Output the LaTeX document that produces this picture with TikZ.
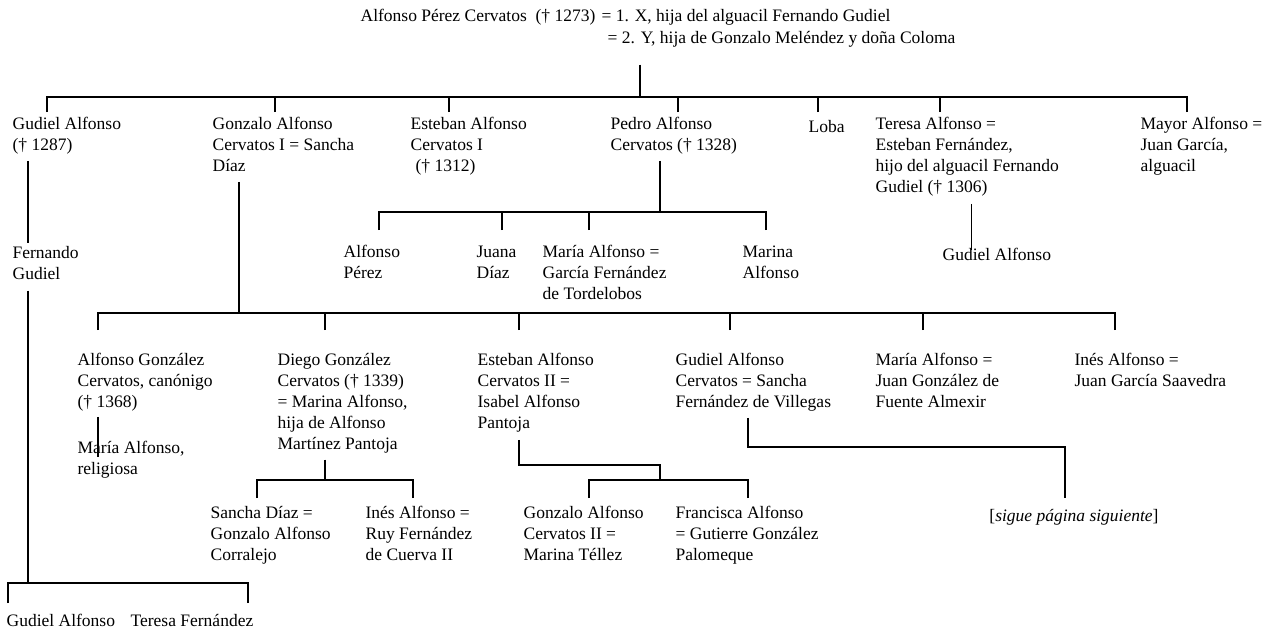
\documentclass[tikz,border=0pt]{standalone}
\usepackage{fontspec}
\setmainfont{Liberation Serif}
\usetikzlibrary{positioning}
\begin{document}
\begin{tikzpicture}[x=1pt, y=-1pt, line width=1.25pt,
  person/.style={anchor=north west, inner sep=0pt, align=left,
    font=\fontsize{17.5}{21}\selectfont, execute at begin node=\strut}]
  \useasboundingbox (0,0) rectangle (1270,630);
  % Alfonso Perez and his two wives
  \node[person] (parent) at (360,6) {Alfonso Pérez Cervatos\ \ († 1273)};
  \node[person, right=5pt of parent] (wife1) {= 1. X, hija del alguacil Fernando Gudiel};
  \node[person] (wife2) at ([xshift=6pt]wife1.south west) {= 2. Y, hija de Gonzalo Meléndez y doña Coloma};
  % his children
  \node[person] (gudiel) at (12,117) {Gudiel Alfonso\\(† 1287)};
  \node[person] (gonzalo) at (212,117) {Gonzalo Alfonso\\Cervatos I = Sancha\\Díaz};
  \node[person] (esteban) at (410,117) {Esteban Alfonso\\Cervatos I\\\kern5pt(† 1312)};
  \node[person] (pedro) at (610,117) {Pedro Alfonso\\Cervatos († 1328)};
  \node[person] (loba) at (808,117) {Loba};
  \node[person] (teresa) at (875,117) {Teresa Alfonso =\\Esteban Fernández,\\hijo del alguacil Fernando\\Gudiel († 1306)};
  \node[person] (mayor) at (1140,117) {Mayor Alfonso =\\Juan García,\\alguacil};
  \coordinate (j1) at (640,97);
  \draw ([yshift=-14pt]wife2.south -| j1) -- (j1);
  \foreach \n/\dx in {gudiel/35, gonzalo/63, esteban/39, pedro/68, loba/10, teresa/65, mayor/47}
    \draw ([xshift=\dx pt,yshift=5pt]\n.north west) |- (j1);

  % line of Gudiel Alfonso
  \node[person] (fernando) at (12,246) {Fernando\\Gudiel};
  \draw ([xshift=16pt,yshift=-3pt]gudiel.south west) -- ([xshift=16pt,yshift=3pt]fernando.north west);
  \node[person] (gudielB) at (6,611) {Gudiel Alfonso};
  \node[person] (teresaF) at (130,611) {Teresa Fernández};
  \coordinate (j6) at (28,583);
  \draw ([yshift=-4pt]fernando.south west -| j6) -- (j6);
  \foreach \n/\dx in {gudielB/2, teresaF/118}
    \draw ([xshift=\dx pt,yshift=8pt]\n.north west) |- (j6);

  % children of Pedro Alfonso
  \node[person] (alfonsoP) at (343,245) {Alfonso\\Pérez};
  \node[person] (juana) at (476,245) {Juana\\Díaz};
  \node[person] (mariaA) at (542,245) {María Alfonso =\\García Fernández\\de Tordelobos};
  \node[person] (marina) at (742,245) {Marina\\Alfonso};
  \coordinate (j3) at (660,212);
  \draw ([yshift=-3pt]pedro.south west -| j3) -- (j3);
  \foreach \n/\dx in {alfonsoP/36, juana/26, mariaA/47, marina/24}
    \draw ([xshift=\dx pt,yshift=15pt]\n.north west) |- (j3);

  % son of Teresa Alfonso
  \node[person] (gudielT) at (942,245) {Gudiel Alfonso};
  \draw ([xshift=4pt,yshift=-4pt]teresa.south) -- ([xshift=4pt,yshift=-5pt]teresa.south |- gudielT.north);

  % children of Gonzalo Alfonso
  \node[person] (alfG) at (77,353) {Alfonso González\\Cervatos, canónigo\\(† 1368)};
  \node[person] (diego) at (277,353) {Diego González\\Cervatos († 1339)\\= Marina Alfonso,\\hija de Alfonso\\Martínez Pantoja};
  \node[person] (estII) at (477,353) {Esteban Alfonso\\Cervatos II =\\Isabel Alfonso\\Pantoja};
  \node[person] (gudielC) at (675,353) {Gudiel Alfonso\\Cervatos = Sancha\\Fernández de Villegas};
  \node[person] (mariaJ) at (875,353) {María Alfonso =\\Juan González de\\Fuente Almexir};
  \node[person] (ines) at (1074,353) {Inés Alfonso =\\Juan García Saavedra};
  \coordinate (j2) at (239,313);
  \draw ([yshift=-3pt]gonzalo.south west -| j2) -- (j2);
  \foreach \n/\dx in {alfG/21, diego/48, estII/42, gudielC/55, mariaJ/48, ines/41}
    \draw ([xshift=\dx pt,yshift=23pt]\n.north west) |- (j2);

  % grandchildren
  \node[person] (religiosa) at (77,441) {María Alfonso,\\religiosa};
  \draw ([xshift=21pt,yshift=-2pt]alfG.south west) -- ([xshift=21pt,yshift=-16pt]religiosa.north west);

  \node[person] (sancha) at (210,506) {Sancha Díaz =\\Gonzalo Alfonso\\Corralejo};
  \node[person] (inesR) at (365,506) {Inés Alfonso =\\Ruy Fernández\\de Cuerva II};
  \coordinate (j4) at (325,480);
  \draw ([yshift=-3pt]diego.south west -| j4) -- (j4);
  \foreach \n/\dx in {sancha/47, inesR/48}
    \draw ([xshift=\dx pt,yshift=8pt]\n.north west) |- (j4);

  \node[person] (gonzII) at (523,506) {Gonzalo Alfonso\\Cervatos II =\\Marina Téllez};
  \node[person] (francisca) at (675,506) {Francisca Alfonso\\= Gutierre González\\Palomeque};
  \coordinate (j5) at (660,480);
  \draw ([xshift=42pt,yshift=-4pt]estII.south west) |- ([yshift=15pt]j5) -- (j5);
  \foreach \n/\dx in {gonzII/66, francisca/73}
    \draw ([xshift=\dx pt,yshift=8pt]\n.north west) |- (j5);

  \node[person, anchor=north] (sigue) at (1074,506) {[\textit{sigue página siguiente}]};
  \draw ([xshift=73pt,yshift=-3pt]gudielC.south west) |- ([xshift=-9pt,yshift=59pt]sigue.north) -- ([xshift=-9pt,yshift=8pt]sigue.north);
\end{tikzpicture}
\end{document}
